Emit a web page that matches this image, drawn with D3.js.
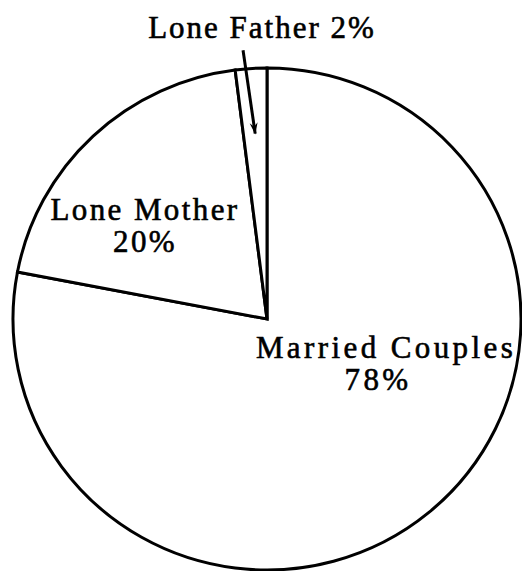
<!DOCTYPE html>
<html>
<head>
<meta charset="utf-8">
<script src="https://cdn.jsdelivr.net/npm/d3@7"></script>
<style>
  html, body { margin: 0; padding: 0; background: #fff; }
  svg { display: block; }
</style>
</head>
<body>
<svg id="chart" width="522" height="571"></svg>
<script>
// ---- data ----
const categories = ["Married Couples", "Lone Mother", "Lone Father"];
const values = [78, 20, 2];
const labels = ["78%", "20%", "2%"];

// ---- layout ----
const cx = 267, cy = 319, rx = 254, ry = 251;
const FONT = "'Liberation Serif', 'DejaVu Serif', Tinos, 'Times New Roman', serif";

const svg = d3.select("#chart");

const pie = d3.pie().sort(null).value(d => d.v).startAngle(0).endAngle(2 * Math.PI);
const data = pie(categories.map((c, i) => ({ c, v: values[i], l: labels[i] })));
const arc = d3.arc().innerRadius(0).outerRadius(rx);

const g = svg.append("g")
  .attr("transform", `translate(${cx},${cy}) scale(1,${ry / rx})`);

g.selectAll("path.slice")
  .data(data)
  .join("path")
  .attr("class", "slice")
  .attr("d", arc)
  .attr("fill", "#fff")
  .attr("stroke", "#000")
  .attr("stroke-width", 3)
  .attr("stroke-linejoin", "miter")
  .attr("vector-effect", "non-scaling-stroke");

// arrow marker
svg.append("defs").append("marker")
  .attr("id", "arrow")
  .attr("viewBox", "0 0 12 10")
  .attr("refX", 11).attr("refY", 5)
  .attr("markerWidth", 12).attr("markerHeight", 10)
  .attr("markerUnits", "userSpaceOnUse")
  .attr("orient", "auto")
  .append("path")
  .attr("d", "M0,1 L12,5 L0,9 L4,5 Z")
  .attr("fill", "#000");

function polar(a, r) {
  return [cx + Math.sin(a) * r, cy - Math.cos(a) * r * (ry / rx)];
}

// arrow pointing into the Lone Father slice
const lf = data[2];
const mid = (lf.startAngle + lf.endAngle) / 2;
const tip = polar(mid, rx * 0.74);
const tail = polar(mid - 0.025, rx * 1.075);
svg.append("line")
  .attr("x1", tail[0]).attr("y1", tail[1])
  .attr("x2", tip[0]).attr("y2", tip[1])
  .attr("stroke", "#000")
  .attr("stroke-width", 3)
  .attr("marker-end", "url(#arrow)");

// labels
const labelPos = [
  { lines: [[386, 358], [378, 390]], ls: 3.4 },
  { lines: [[145, 220], [145, 252]], ls: 2.4 },
  { lines: [[262, 38]], ls: 2.0 }
];

data.forEach((d, i) => {
  const pos = labelPos[i].lines;
  const t = svg.append("text")
    .attr("text-anchor", "middle")
    .style("font-family", FONT)
    .style("font-size", "31px")
    .style("letter-spacing", labelPos[i].ls + "px")
    .attr("fill", "#000")
    .attr("stroke", "#000")
    .attr("stroke-width", 0.6);
  if (pos.length === 2) {
    t.append("tspan").attr("x", pos[0][0]).attr("y", pos[0][1]).text(d.data.c);
    t.append("tspan").attr("x", pos[1][0]).attr("y", pos[1][1]).text(d.data.l);
  } else {
    t.append("tspan").attr("x", pos[0][0]).attr("y", pos[0][1]).text(d.data.c + " " + d.data.l);
  }
});
</script>
</body>
</html>
